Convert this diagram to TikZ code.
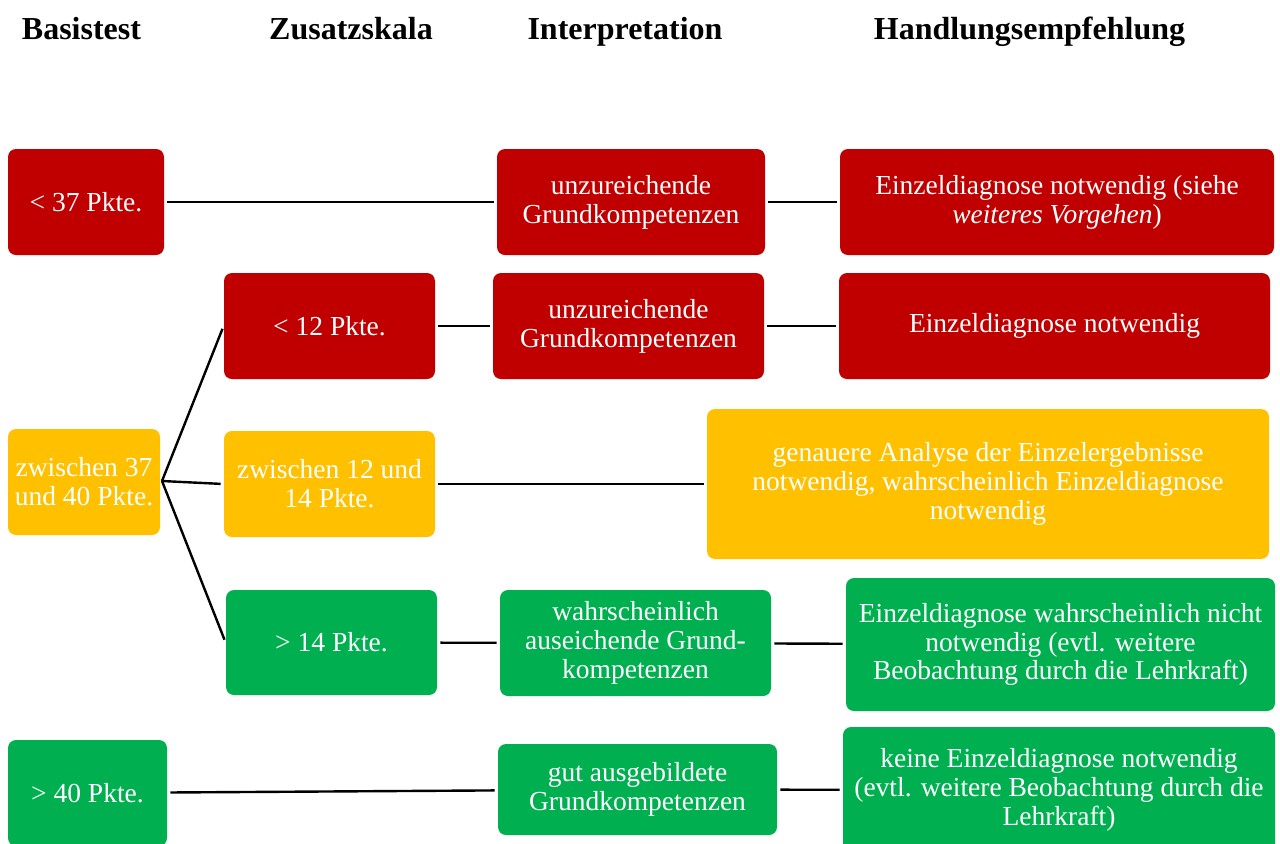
\documentclass[tikz,border=0pt]{standalone}
\usepackage{fontspec}
\setmainfont{Liberation Serif}
\definecolor{cred}{HTML}{C00000}
\definecolor{cyel}{HTML}{FFC000}
\definecolor{cgrn}{HTML}{00B050}
\begin{document}
\begin{tikzpicture}[x=0.5pt,y=-0.5pt,
  box/.style={rounded corners=4pt, draw=none, text=white, align=center,
    inner sep=0pt, font=\fontsize{13.75pt}{14.4pt}\selectfont},
  redbox/.style={box, fill=cred},
  yelbox/.style={box, fill=cyel},
  grnbox/.style={box, fill=cgrn},
  head/.style={anchor=base, font=\fontsize{16pt}{18pt}\selectfont\bfseries},
  conn/.style={line width=1.2pt, black, shorten <=1.5pt, shorten >=1.5pt}]
\useasboundingbox (0,0) rectangle (1280,843);
% headers
\node[head] (h1) at (81.5,39) {Basistest};
\node[head] (h2) at (351,39) {Zusatzskala};
\node[head] (h3) at (625,39) {Interpretation};
\node[head] (h4) at (1029.5,39) {Handlungsempfehlung};
% row 1
\node[redbox, minimum width=78pt, minimum height=53pt] (B1) at (86,202) {< 37 Pkte.};
\node[redbox, minimum width=134pt, minimum height=53pt] (I1) at (631,202) {unzureichende\\Grundkompetenzen};
\node[redbox, minimum width=217pt, minimum height=53pt] (H1) at (1057,202) {Einzeldiagnose notwendig (siehe\\\textit{weiteres Vorgehen})};
% row 2
\node[redbox, minimum width=105.5pt, minimum height=53pt] (Z1) at (329.5,326) {< 12 Pkte.};
\node[redbox, minimum width=135.5pt, minimum height=53pt] (I2) at (628.5,326) {unzureichende\\Grundkompetenzen};
\node[redbox, minimum width=215.5pt, minimum height=53pt] (H2) at (1054.5,326) {Einzeldiagnose notwendig};
% row 3
\node[yelbox, minimum width=76pt, minimum height=53pt] (B2) at (84,482) {zwischen 37\\und 40 Pkte.};
\node[yelbox, minimum width=105.5pt, minimum height=53pt] (Z2) at (329.5,484) {zwischen 12 und\\14 Pkte.};
\node[yelbox, minimum width=281pt, minimum height=75pt] (H3) at (988,484) {genauere Analyse der Einzelergebnisse\\notwendig, wahrscheinlich Einzeldiagnose\\notwendig};
% row 4
\node[grnbox, minimum width=105.5pt, minimum height=52.5pt] (Z3) at (331.5,642.5) {> 14 Pkte.};
\node[grnbox, minimum width=135.5pt, minimum height=53pt] (I3) at (635.5,643) {wahrscheinlich\\auseichende Grund-\\kompetenzen};
\node[grnbox, minimum width=214.5pt, minimum height=66.5pt] (H4) at (1060.5,644.5) {Einzeldiagnose wahrscheinlich nicht\\notwendig (evtl. weitere\\Beobachtung durch die Lehrkraft)};
% row 5
\node[grnbox, minimum width=79.5pt, minimum height=53pt] (B3) at (87.5,793) {> 40 Pkte.};
\node[grnbox, minimum width=139.5pt, minimum height=45.5pt] (I4) at (637.5,789.5) {gut ausgebildete\\Grundkompetenzen};
\node[grnbox, minimum width=216pt, minimum height=63pt] (H5) at (1059,790) {keine Einzeldiagnose notwendig\\(evtl. weitere Beobachtung durch die\\Lehrkraft)};
% connectors
\coordinate (fan) at (162,481);
\draw[conn] (B1) -- (I1);
\draw[conn] (I1) -- (H1);
\draw[conn] (Z1) -- (I2);
\draw[conn] (I2) -- (H2);
\draw[line width=1.2pt, shorten >=1.5pt] (fan) -- (Z1.west);
\draw[line width=1.2pt, shorten >=1.5pt] (fan) -- (Z2.west);
\draw[line width=1.2pt, shorten >=1.5pt] (fan) -- (Z3.west);
\draw[conn] (Z2) -- (H3);
\draw[conn] (Z3) -- (I3);
\draw[conn] (I3) -- (H4);
\draw[conn] (B3) -- (I4);
\draw[conn] (I4) -- (H5);
\end{tikzpicture}
\end{document}
